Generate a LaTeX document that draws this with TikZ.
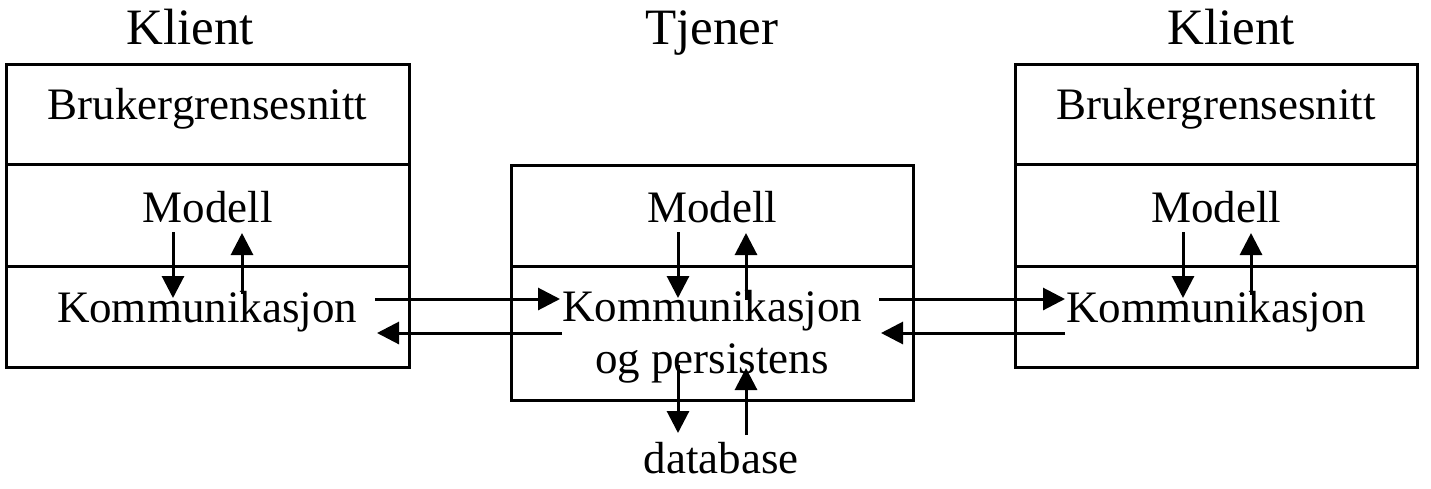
\documentclass[tikz,border=0pt]{standalone}
\usepackage{fontspec}
\setmainfont{Liberation Serif}
\usetikzlibrary{arrows.meta}
\tikzset{
  cell/.style={draw, line width=3pt, rectangle, inner sep=0pt, outer sep=0pt, anchor=north west},
  txt/.style={inner sep=0pt, anchor=base, font=\fontsize{45}{52}\selectfont, align=center},
  ttl/.style={inner sep=0pt, anchor=base, font=\fontsize{51}{56}\selectfont},
  arr/.style={line width=3pt, -{Triangle[length=22pt,width=22pt]}}
}
\begin{document}
\begin{tikzpicture}[x=1pt,y=-1pt]
\useasboundingbox (0,0) rectangle (1431,488);
\fill[white] (0,0) rectangle (1431,488);
% left client
\node[cell, minimum width=403pt, minimum height=100pt] (lui) at (6,64) {};
\node[cell, minimum width=403pt, minimum height=102pt] (lmod) at (6,164) {};
\node[cell, minimum width=403pt, minimum height=101pt] (lkom) at (6,266) {};
% server
\node[cell, minimum width=402pt, minimum height=101pt] (smod) at (511,165) {};
\node[cell, minimum width=402pt, minimum height=134pt] (skom) at (511,266) {};
% right client
\node[cell, minimum width=402pt, minimum height=100pt] (rui) at (1015,64) {};
\node[cell, minimum width=402pt, minimum height=102pt] (rmod) at (1015,164) {};
\node[cell, minimum width=402pt, minimum height=101pt] (rkom) at (1015,266) {};
% titles
\node[ttl] (tl) at (190,44) {Klient};
\node[ttl] (ts) at (712,44) {Tjener};
\node[ttl] (tr) at (1231,44) {Klient};
% texts
\node[txt] (lb) at (207.5,119) {Brukergrensesnitt};
\node[txt] (lm) at (207.5,222) {Modell};
\node[txt] (lk) at (207,322) {Kommunikasjon};
\node[txt] (sm) at (712,222) {Modell};
\node[txt] (sk) at (712,373) {Kommunikasjon\\og persistens};
\node[txt] (db) at (721,473) {database};
\node[txt] (rb) at (1216,119) {Brukergrensesnitt};
\node[txt] (rm) at (1216,222) {Modell};
\node[txt] (rk) at (1216,322) {Kommunikasjon};
% endpoints
\coordinate (a1) at (173,232); \coordinate (a2) at (173,298);
\coordinate (b1) at (242,294); \coordinate (b2) at (242,233);
\coordinate (c1) at (375,299); \coordinate (c2) at (560,299);
\coordinate (d1) at (562,333); \coordinate (d2) at (377,333);
\coordinate (e1) at (678,232); \coordinate (e2) at (678,298);
\coordinate (f1) at (746,300); \coordinate (f2) at (746,233);
\coordinate (g1) at (678,365); \coordinate (g2) at (678,433);
\coordinate (h1) at (746,435); \coordinate (h2) at (746,368);
\coordinate (i1) at (879,299); \coordinate (i2) at (1065,299);
\coordinate (j1) at (1065,333); \coordinate (j2) at (881,333);
\coordinate (k1) at (1183,232); \coordinate (k2) at (1183,298);
\coordinate (l1) at (1251,295); \coordinate (l2) at (1251,233);
\draw[arr] (a1) -- (a2);
\draw[arr] (b1) -- (b2);
\draw[arr] (c1) -- (c2);
\draw[arr] (d1) -- (d2);
\draw[arr] (e1) -- (e2);
\draw[arr] (f1) -- (f2);
\draw[arr] (g1) -- (g2);
\draw[arr] (h1) -- (h2);
\draw[arr] (i1) -- (i2);
\draw[arr] (j1) -- (j2);
\draw[arr] (k1) -- (k2);
\draw[arr] (l1) -- (l2);
\end{tikzpicture}
\end{document}
